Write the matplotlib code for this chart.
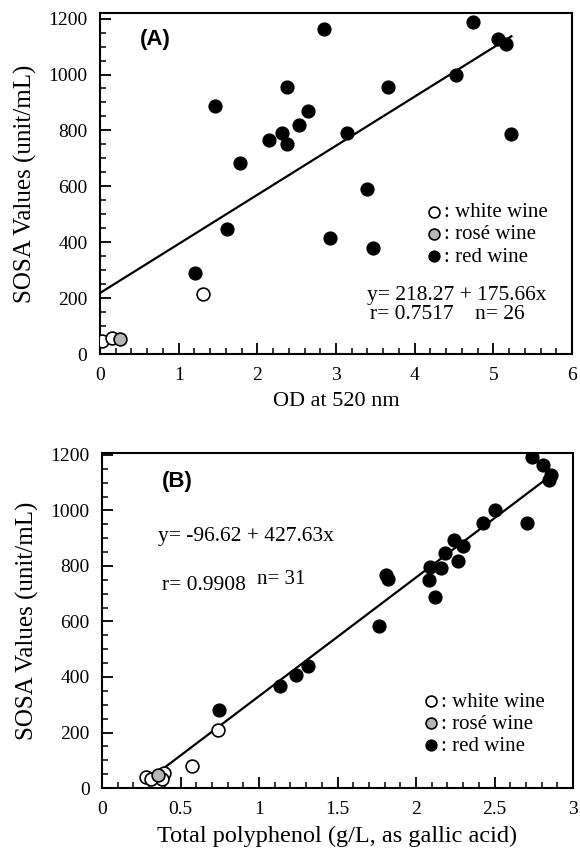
import matplotlib.pyplot as plt
from matplotlib.ticker import MultipleLocator

plt.rcParams["font.family"] = ["Liberation Serif", "DejaVu Serif"]

# Panel A: SOSA vs OD at 520 nm
a_white_x = [0.02, 0.15, 1.31]
a_white_y = [47, 59, 216]
a_rose_x = [0.25]
a_rose_y = [52]
a_red_x = [1.21, 2.85, 4.745, 5.06, 5.16, 4.525, 3.66, 2.38, 1.466, 2.65, 2.53,
           2.31, 3.135, 2.15, 2.38, 5.23, 1.78, 3.39, 1.62, 2.92, 3.47]
a_red_y = [291, 1162, 1189, 1127, 1109, 999, 955, 955, 889, 870, 820,
           792, 792, 766, 752, 787, 683, 589, 448, 416, 381]
a_fit = (218.27, 175.66)
a_fit_range = (0.0, 5.23)

# Panel B: SOSA vs total polyphenol
b_white_x = [0.741, 0.575, 0.28, 0.31, 0.395, 0.38]
b_white_y = [209, 80, 41, 32, 55, 31]
b_rose_x = [0.359]
b_rose_y = [47]
b_red_x = [2.737, 2.807, 2.86, 2.85, 2.50, 2.425, 2.705, 2.24, 2.30, 2.185, 2.09,
           2.16, 2.27, 2.08, 1.81, 1.82, 2.12, 1.766, 1.314, 1.236, 1.134, 0.747]
b_red_y = [1192, 1164, 1128, 1110, 1002, 956, 954, 894, 872, 846, 795,
           792, 819, 750, 768, 752, 689, 585, 440, 407, 368, 281]
b_fit = (-96.62, 427.63)
b_fit_range = (0.38, 2.815)

legend_labels = [": white wine", ": rosé wine", ": red wine"]


def draw_panel(ax, white, rose, red, fit, fit_range):
    b0, b1 = fit
    xs = list(fit_range)
    ax.plot(xs, [b0 + b1 * x for x in xs], color="black", lw=1.6, zorder=2)
    ms = 85
    h_w = ax.scatter(*white, s=ms, facecolor="white", edgecolor="black", lw=1.2, zorder=3)
    h_r = ax.scatter(*rose, s=ms, facecolor="#b5b5b5", edgecolor="black", lw=1.2, zorder=3)
    h_d = ax.scatter(*red, s=ms, facecolor="black", edgecolor="black", lw=1.0, zorder=3)
    for s in ax.spines.values():
        s.set_linewidth(1.5)
    ax.tick_params(which="both", direction="in", top=False, right=False, labelsize=14, pad=9)
    ax.tick_params(which="major", length=8, width=1.3)
    ax.tick_params(which="minor", length=4, width=1.1)
    ax.yaxis.set_major_locator(MultipleLocator(200))
    ax.yaxis.set_minor_locator(MultipleLocator(50))
    ax.set_ylabel("SOSA Values (unit/mL)", fontsize=18, labelpad=8)
    return [h_w, h_r, h_d]


def add_legend(ax, handles, anchor):
    ax.legend(handles, legend_labels, loc="center left", bbox_to_anchor=anchor,
              frameon=False, fontsize=15, handlelength=0.8, handletextpad=0.1,
              labelspacing=0.12, borderpad=0, borderaxespad=0, markerscale=0.85)


fig = plt.figure(figsize=(5.8, 8.57), dpi=100)

ax1 = fig.add_axes([0.1724, 0.5869, 0.8138, 0.3979])
hs = draw_panel(ax1, (a_white_x, a_white_y), (a_rose_x, a_rose_y),
                (a_red_x, a_red_y), a_fit, a_fit_range)
ax1.set_xlim(0, 6)
ax1.set_ylim(0, 1220)
ax1.xaxis.set_major_locator(MultipleLocator(1))
ax1.xaxis.set_minor_locator(MultipleLocator(0.2))
ax1.set_xlabel("OD at 520 nm", fontsize=16, labelpad=6)
ax1.text(0.51, 1125, "(A)", fontsize=16, fontweight="bold",
         family="Liberation Sans", va="center")
ax1.text(3.39, 211, "y= 218.27 + 175.66x", fontsize=15.5, va="center")
ax1.text(3.43, 140, "r= 0.7517    n= 26", fontsize=15.5, va="center")
add_legend(ax1, hs, (0.69, 0.35))

ax2 = fig.add_axes([0.1759, 0.0805, 0.8121, 0.3909])
hs = draw_panel(ax2, (b_white_x, b_white_y), (b_rose_x, b_rose_y),
                (b_red_x, b_red_y), b_fit, b_fit_range)
ax2.set_xlim(0, 3)
ax2.set_ylim(0, 1207)
ax2.xaxis.set_major_locator(MultipleLocator(0.5))
ax2.xaxis.set_minor_locator(MultipleLocator(0.1))
ax2.xaxis.set_major_formatter(lambda v, p: f"{v:g}")
ax2.set_xlabel("Total polyphenol (g/L, as gallic acid)", fontsize=17.5, labelpad=6)
ax2.text(0.38, 1103, "(B)", fontsize=16, fontweight="bold",
         family="Liberation Sans", va="center")
ax2.text(0.357, 905, "y= -96.62 + 427.63x", fontsize=15.5, va="center")
ax2.text(0.382, 731, "r= 0.9908", fontsize=15.5, va="center")
ax2.text(0.985, 750, "n= 31", fontsize=15, va="center")
add_legend(ax2, hs, (0.68, 0.191))

fig.savefig("out.png", dpi=100)
